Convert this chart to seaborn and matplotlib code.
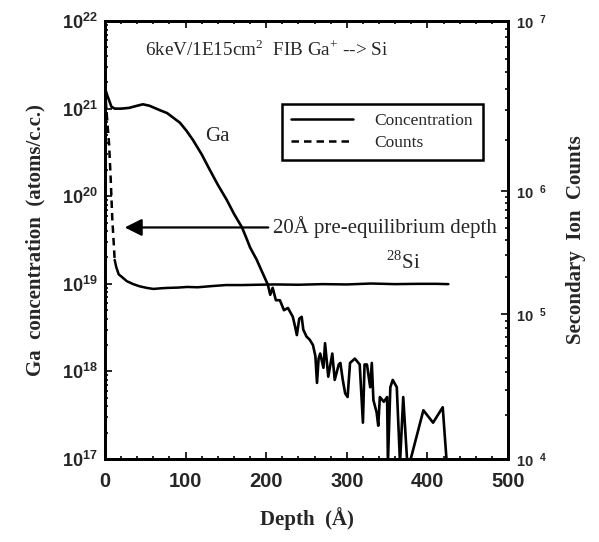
import numpy as np
import matplotlib
matplotlib.use("Agg")
import matplotlib.pyplot as plt
import seaborn as sns
from matplotlib.lines import Line2D
from matplotlib.ticker import FixedLocator, FuncFormatter, LogLocator, MultipleLocator

# Ga concentration profile (atoms/c.c.) vs depth (Angstrom)
ga_depth = [0, 3, 8, 12, 20, 30, 40, 47, 55, 68, 77, 93, 101, 109, 120, 130, 140, 151,
            160, 170, 175, 180, 188, 196, 202, 205, 208, 212, 217, 222, 227, 233, 236,
            238, 241, 244, 246, 250, 254, 258, 261, 263, 265, 267, 271, 273, 277, 282,
            285, 290, 292, 295, 298, 301, 304, 310, 316, 320, 322, 325, 329, 331, 333,
            337, 339, 341, 346, 350, 351, 354, 357, 362, 366, 370, 375, 378, 395, 407,
            419, 424]
ga_conc = [1.7e21, 1.4e21, 1.05e21, 1.0e21, 1.0e21, 1.02e21, 1.08e21, 1.12e21, 1.08e21,
           9.6e20, 8.9e20, 6.9e20, 5.6e20, 4.4e20, 3.0e20, 2.0e20, 1.35e20, 9.1e19,
           6.3e19, 4.4e19, 3.4e19, 2.6e19, 1.9e19, 1.3e19, 9.8e18, 7.5e18, 9.0e18,
           6.5e18, 6.5e18, 5.0e18, 5.3e18, 4.2e18, 3.2e18, 2.6e18, 4.0e18, 4.2e18,
           3.0e18, 2.5e18, 2.3e18, 2.0e18, 1.5e18, 7.4e17, 1.4e18, 1.6e18, 1.1e18,
           2.1e18, 8.7e17, 1.6e18, 8.0e17, 1.2e18, 1.25e18, 8.0e17, 5.6e17, 5.1e17,
           1.25e18, 1.4e18, 1.2e18, 2.6e17, 1.2e18, 1.2e18, 6.6e17, 1.25e18, 4.7e17,
           3.4e17, 2.4e17, 5.1e17, 4.5e17, 5.1e17, 9e16, 6.6e17, 8.0e17, 6.6e17, 9e16,
           5.1e17, 9e16, 9e16, 3.6e17, 2.6e17, 3.9e17, 9e16]

# 28Si secondary ion counts vs depth
si_depth = [1, 3, 5, 7, 9, 11, 12, 14, 17, 21, 27, 35, 43, 52, 60, 70, 77, 90, 102, 115,
            134, 150, 170, 190, 210, 240, 270, 300, 330, 360, 390, 410, 426]
si_counts = [3.4e6, 2.5e6, 1.9e6, 1.2e6, 6.0e5, 3.6e5, 2.75e5, 2.4e5, 2.1e5, 2.0e5,
             1.85e5, 1.75e5, 1.68e5, 1.63e5, 1.6e5, 1.62e5, 1.63e5, 1.64e5, 1.66e5,
             1.65e5, 1.69e5, 1.72e5, 1.72e5, 1.73e5, 1.74e5, 1.73e5, 1.75e5, 1.74e5,
             1.77e5, 1.75e5, 1.76e5, 1.76e5, 1.75e5]
si_dashed_until = 12  # pre-equilibrium part drawn dashed

x_ticks = [0, 100, 200, 300, 400, 500]
left_decades = [17, 18, 19, 20, 21, 22]
right_decades = [4, 5, 6, 7]

sns.set_style("ticks")
plt.rcParams["font.family"] = ["Liberation Serif", "DejaVu Serif"]
plt.rcParams["mathtext.fontset"] = "custom"
plt.rcParams["mathtext.rm"] = "Liberation Serif"
plt.rcParams["mathtext.bf"] = "Liberation Sans:bold"


# the printed right axis has uneven decades: piecewise log scale
def fwd(v):
    lv = np.log10(np.clip(np.asarray(v, dtype=float), 1e-300, None))
    return np.where(lv < 5, (lv - 4) * 0.331,
                    np.where(lv < 6, 0.331 + (lv - 5) * 0.281, 0.612 + (lv - 6) * 0.388))


def inv(f):
    f = np.asarray(f, dtype=float)
    lv = np.where(f < 0.331, 4 + f / 0.331,
                  np.where(f < 0.612, 5 + (f - 0.331) / 0.281, 6 + (f - 0.612) / 0.388))
    return 10 ** lv


fig = plt.figure(figsize=(5.99, 5.42), dpi=100)
ax = fig.add_axes([0.1753, 0.1531, 0.6728, 0.8081])
ax2 = ax.twinx()

ax.set_yscale("log")
sns.lineplot(x=ga_depth, y=ga_conc, ax=ax, color="black", lw=1.9,
             sort=False, estimator=None, legend=False)

ax2.set_yscale("function", functions=(fwd, inv))
si_depth = np.array(si_depth)
si_counts = np.array(si_counts)
early = si_depth <= si_dashed_until
late = si_depth >= si_dashed_until
sns.lineplot(x=si_depth[early], y=si_counts[early], ax=ax2, color="black", lw=1.8,
             linestyle=(0, (3, 2)), sort=False, estimator=None, legend=False)
sns.lineplot(x=si_depth[late], y=si_counts[late], ax=ax2, color="black", lw=1.8,
             sort=False, estimator=None, legend=False)

ax.set_xlim(0, 500)
ax.set_ylim(1e17, 1e22)
ax2.set_ylim(1e4, 1e7)

# ticks
ax.set_xticks(x_ticks)
ax.set_xticklabels([str(t) for t in x_ticks], fontfamily="Liberation Sans",
                   fontweight="bold", fontsize=14.5)
ax.xaxis.set_minor_locator(MultipleLocator(20))
ax.yaxis.set_major_locator(FixedLocator([10.0 ** d for d in left_decades]))
ax.yaxis.set_minor_locator(LogLocator(base=10, subs=np.arange(2, 10), numticks=50))
ax.yaxis.set_major_formatter(FuncFormatter(lambda v, p: r"$\mathbf{10^{%d}}$" % round(np.log10(v))))
ax.yaxis.set_minor_formatter(FuncFormatter(lambda v, p: ""))
ax2.yaxis.set_major_locator(FixedLocator([10.0 ** d for d in right_decades]))
ax2.yaxis.set_minor_locator(FixedLocator([m * 10.0 ** d for d in right_decades[:-1] for m in range(2, 10)]))
ax2.yaxis.set_major_formatter(FuncFormatter(lambda v, p: r"$\mathbf{10^{\ \ %d}}$" % round(np.log10(v))))
ax2.yaxis.set_minor_formatter(FuncFormatter(lambda v, p: ""))

ax.tick_params(axis="both", which="both", direction="in", top=True, right=False, width=1.4)
ax.tick_params(axis="both", which="major", length=5)
ax.tick_params(axis="both", which="minor", length=2.5)
ax.tick_params(axis="x", pad=9)
ax.tick_params(axis="y", labelsize=13, pad=5)
ax2.tick_params(axis="y", which="both", direction="in", width=1.4, labelsize=10.5, pad=6)
ax2.tick_params(axis="y", which="major", length=5)
ax2.tick_params(axis="y", which="minor", length=2.5)

for a in (ax, ax2):
    for s in a.spines.values():
        s.set_linewidth(2.0)
        s.set_color("black")

ax.set_xlabel("Depth  (Å)", fontweight="bold", fontsize=15, labelpad=12)
ax.set_ylabel("Ga  concentration  (atoms/c.c.)", fontweight="bold", fontsize=15, labelpad=12)
ax2.set_ylabel("Secondary  Ion  Counts", fontweight="bold", fontsize=15, labelpad=14)

# annotations
ax.text(0.099, 0.934, "6keV/1E15cm$^{2}$  FIB Ga$^{+}$ --> Si", transform=ax.transAxes,
        fontsize=13.8, ha="left", va="center")
ax.text(124, 10 ** 20.68, "Ga", fontsize=15, ha="left", va="center")
ax.annotate("", xy=(21, 4.4e19), xytext=(206, 4.4e19),
            arrowprops=dict(arrowstyle="-|>", color="black", lw=1.6, mutation_scale=26))
ax.text(208, 4.4e19, "20Å pre-equilibrium depth", fontsize=15, ha="left", va="center")
ax.text(349, 10 ** 19.24, "$^{28}$Si", fontsize=15, ha="left", va="center")

handles = [Line2D([], [], color="black", lw=1.8),
           Line2D([], [], color="black", lw=1.8, linestyle=(0, (3, 2)))]
leg = ax2.legend(handles, ["Concentration", "Counts"], loc="upper left",
                 bbox_to_anchor=(0.439, 0.667, 0.499, 0.1435), mode="expand",
                 fontsize=12.5, handlelength=3.6, handletextpad=1.2, frameon=True,
                 fancybox=False, framealpha=1, edgecolor="black", borderpad=0.5,
                 labelspacing=0.35, borderaxespad=0)
leg.get_frame().set_linewidth(1.8)

fig.savefig("out.png", dpi=100)
